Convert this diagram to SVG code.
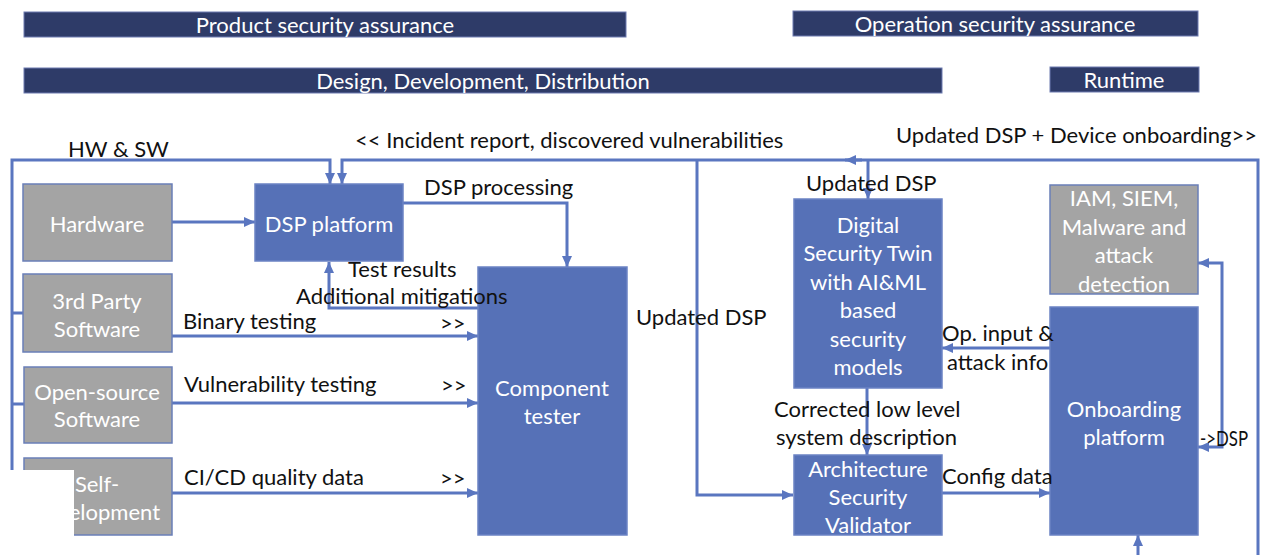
<svg xmlns="http://www.w3.org/2000/svg" width="1263" height="555" viewBox="0 0 1263 555">
<style>
.bar{fill:#2e3b68;stroke:#6d7bb0;stroke-width:1}
.bt{fill:#ffffff;font-family:Lato,"Liberation Sans",sans-serif;font-size:22px;text-anchor:middle;dominant-baseline:central}
.blue{fill:#5671b7;stroke:#6b83c4;stroke-width:1.5}
.gray{fill:#a4a4a4;stroke:#6a7fb8;stroke-width:1.5}
.nt{fill:#ffffff;font-family:Lato,"Liberation Sans",sans-serif;font-size:22px;text-anchor:middle;dominant-baseline:central}
.lb{fill:#111111;font-family:Lato,"Liberation Sans",sans-serif;font-size:22px;dominant-baseline:central}
.c{fill:none;stroke:#5a76c0;stroke-width:3}
</style>
<defs>
<marker id="ah" markerUnits="userSpaceOnUse" markerWidth="12" markerHeight="12" refX="11" refY="6" orient="auto-start-reverse">
<path d="M0,1 L11,6 L0,11 Z" fill="#5a76c0"/>
</marker>
</defs>
<g id="headers">
<rect class="bar" x="24" y="12" width="602" height="25"/>
<text class="bt" x="325" y="24.5">Product security assurance</text>
<rect class="bar" x="793" y="11" width="405" height="25"/>
<text class="bt" x="995" y="23.5">Operation security assurance</text>
<rect class="bar" x="24" y="68" width="918" height="25"/>
<text class="bt" x="483" y="80.5">Design, Development, Distribution</text>
<rect class="bar" x="1050" y="67" width="149" height="25"/>
<text class="bt" x="1124" y="79.5">Runtime</text>
</g>
<g id="connectors">
<path class="c" d="M12,470 V160 H330 V184" marker-end="url(#ah)"/>
<path class="c" d="M12,313 H23 M12,404 H24"/>
<path class="c" d="M1258,555 V160 H342 V184" marker-end="url(#ah)"/>
<path class="c" d="M862,160 H845" marker-end="url(#ah)"/>
<path class="c" d="M868,160 V199" marker-end="url(#ah)"/>
<path class="c" d="M697,160 V495 H793" marker-end="url(#ah)"/>
<path class="c" d="M172,222 H255" marker-end="url(#ah)"/>
<path class="c" d="M403,203 H567 V267" marker-end="url(#ah)"/>
<path class="c" d="M478,308 H329 V262" marker-end="url(#ah)"/>
<path class="c" d="M172,336 H478" marker-end="url(#ah)"/>
<path class="c" d="M172,403 H478" marker-end="url(#ah)"/>
<path class="c" d="M172,493 H478" marker-end="url(#ah)"/>
<path class="c" d="M1050,348 H942" marker-end="url(#ah)"/>
<path class="c" d="M867,388 V455" marker-end="url(#ah)"/>
<path class="c" d="M942,493 H1050" marker-end="url(#ah)"/>
<path class="c" d="M1198,447 H1222 V263 H1198" marker-start="url(#ah)" marker-end="url(#ah)"/>
<path class="c" d="M1138,555 V535" marker-end="url(#ah)"/>
</g>
<g id="hardware">
<rect class="gray" x="23" y="184" width="149" height="77"/>
<text class="nt" x="97" y="223">Hardware</text>
</g>
<g id="third-party">
<rect class="gray" x="23" y="274" width="149" height="78"/>
<text class="nt" x="97" y="300">3rd Party</text>
<text class="nt" x="97" y="328">Software</text>
</g>
<g id="open-source">
<rect class="gray" x="24" y="367" width="148" height="76"/>
<text class="nt" x="97" y="391">Open-source</text>
<text class="nt" x="97" y="418">Software</text>
</g>
<g id="self-development">
<rect class="gray" x="24" y="458" width="148" height="77"/>
<text class="nt" x="97" y="483">Self-</text>
<text class="nt" x="97" y="511">development</text>
</g>
<g id="dsp-platform">
<rect class="blue" x="255" y="184" width="148" height="77"/>
<text class="nt" x="329" y="223">DSP platform</text>
</g>
<g id="component-tester">
<rect class="blue" x="478" y="267" width="149" height="268"/>
<text class="nt" x="552" y="387">Component</text>
<text class="nt" x="552" y="415">tester</text>
</g>
<g id="digital-twin">
<rect class="blue" x="794" y="199" width="148" height="189"/>
<text class="nt" x="868" y="224">Digital</text>
<text class="nt" x="868" y="252">Security Twin</text>
<text class="nt" x="868" y="281">with AI&amp;ML</text>
<text class="nt" x="868" y="309">based</text>
<text class="nt" x="868" y="338">security</text>
<text class="nt" x="868" y="366">models</text>
</g>
<g id="iam-siem">
<rect class="gray" x="1050" y="185" width="148" height="109"/>
<text class="nt" x="1124" y="197">IAM, SIEM,</text>
<text class="nt" x="1124" y="226">Malware and</text>
<text class="nt" x="1124" y="254">attack</text>
<text class="nt" x="1124" y="283">detection</text>
</g>
<g id="onboarding">
<rect class="blue" x="1050" y="307" width="148" height="228"/>
<text class="nt" x="1124" y="408">Onboarding</text>
<text class="nt" x="1124" y="436">platform</text>
</g>
<g id="arch-validator">
<rect class="blue" x="794" y="455" width="148" height="80"/>
<text class="nt" x="868" y="468">Architecture</text>
<text class="nt" x="868" y="496">Security</text>
<text class="nt" x="868" y="524">Validator</text>
</g>
<g id="labels">
<text class="lb" x="68" y="148">HW &amp; SW</text>
<text class="lb" x="355" y="139">&lt;&lt; Incident report, discovered vulnerabilities</text>
<text class="lb" x="896" y="134">Updated DSP + Device onboarding&gt;&gt;</text>
<text class="lb" x="424" y="186">DSP processing</text>
<text class="lb" x="806" y="182">Updated DSP</text>
<text class="lb" x="348" y="268">Test results</text>
<text class="lb" x="296" y="295">Additional mitigations</text>
<text class="lb" x="183" y="320">Binary testing</text>
<text class="lb" x="184" y="383">Vulnerability testing</text>
<text class="lb" x="184" y="476">CI/CD quality data</text>
<text class="lb" x="440" y="322">&gt;&gt;</text>
<text class="lb" x="441" y="384">&gt;&gt;</text>
<text class="lb" x="440" y="477">&gt;&gt;</text>
<text class="lb" x="636" y="316">Updated DSP</text>
<text class="lb" x="942" y="332">Op. input &amp;</text>
<text class="lb" x="947" y="361">attack info</text>
<text class="lb" x="774" y="408">Corrected low level</text>
<text class="lb" x="776" y="436">system description</text>
<text class="lb" x="942" y="475">Config data</text>
<text class="lb" x="1200" y="437" textLength="48" lengthAdjust="spacingAndGlyphs">-&gt;DSP</text>
</g>
<rect x="0" y="470" width="74" height="85" fill="#ffffff"/>
</svg>
